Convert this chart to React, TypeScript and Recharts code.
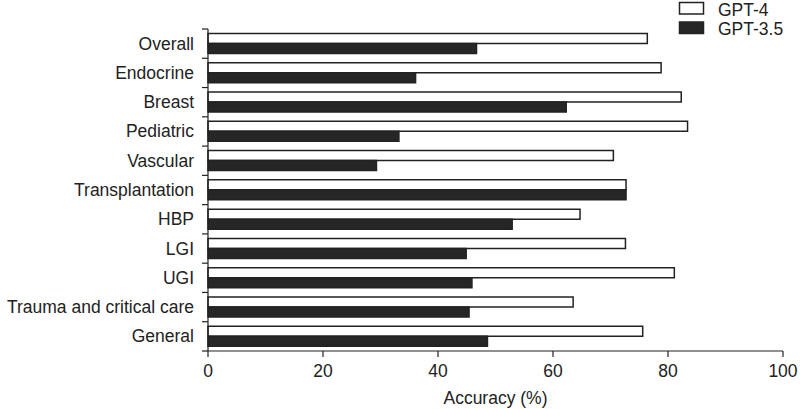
import React from 'react';
import { BarChart, Bar, XAxis, YAxis } from 'recharts';

const categories = ['Overall', 'Endocrine', 'Breast', 'Pediatric', 'Vascular', 'Transplantation', 'HBP', 'LGI', 'UGI', 'Trauma and critical care', 'General'];
const gpt4 = [76.4, 78.8, 82.3, 83.4, 70.5, 72.7, 64.7, 72.6, 81.1, 63.5, 75.6];
const gpt35 = [46.7, 36.1, 62.3, 33.2, 29.3, 72.7, 52.9, 44.9, 45.9, 45.4, 48.6];
const xTicks = [0, 20, 40, 60, 80, 100];
const seriesNames = ['GPT-4', 'GPT-3.5'];

const data = categories.map((c, i) => ({ name: c, gpt4: gpt4[i], gpt35: gpt35[i] }));

const W = 800;
const H = 409;
const MARGIN = { top: 29, right: 17, bottom: 0, left: 0 };
const Y_AXIS_W = 208;
const X_AXIS_H = 58;
const FONT = '"Liberation Sans", Arial, sans-serif';
const FS = 17.5;
const INK = '#222';
const plotH = H - MARGIN.top - MARGIN.bottom - X_AXIS_H;
const band = plotH / categories.length;
const axisX = MARGIN.left + Y_AXIS_W;

const YTick = (props: any) => {
  const { x, y, payload, index } = props;
  const top = y - band / 2;
  const bottom = y + band / 2;
  return (
    <g>
      <line x1={axisX - 6} x2={axisX} y1={top} y2={top} stroke={INK} strokeWidth={1.2} />
      {index === categories.length - 1 && (
        <line x1={axisX - 6} x2={axisX} y1={bottom} y2={bottom} stroke={INK} strokeWidth={1.2} />
      )}
      <text x={x} y={y} textAnchor="end" dominantBaseline="central" fontFamily={FONT} fontSize={FS} fill={INK}>
        {payload.value}
      </text>
    </g>
  );
};

const LegendBox = () => (
  <svg width={120} height={40} style={{ position: 'absolute', left: 678, top: 0, display: 'block' }}>
    <rect x={1.5} y={2.5} width={24} height={11.5} fill="#fff" stroke={INK} strokeWidth={1.5} />
    <text x={40} y={15.5} fontFamily={FONT} fontSize={FS} fill={INK}>{seriesNames[0]}</text>
    <rect x={1.5} y={22} width={24} height={11.5} fill="#262626" stroke={INK} strokeWidth={1.5} />
    <text x={40} y={35} fontFamily={FONT} fontSize={FS} fill={INK}>{seriesNames[1]}</text>
  </svg>
);

export default function App() {
  return (
    <div style={{ position: 'absolute', left: 0, top: 0, width: W, height: H, background: '#fff' }}>
      <BarChart
        width={W}
        height={H}
        data={data}
        layout="vertical"
        margin={MARGIN}
        barCategoryGap={4.5}
        barGap={0}
      >
        <XAxis
          type="number"
          domain={[0, 100]}
          ticks={xTicks}
          height={X_AXIS_H}
          tickSize={6}
          tickMargin={8}
          stroke={INK}
          strokeWidth={1.2}
          tick={{ fill: INK, fontSize: FS, fontFamily: FONT }}
          label={{ value: 'Accuracy (%)', position: 'insideBottom', offset: 5, fill: INK, fontSize: FS, fontFamily: FONT }}
        />
        <YAxis
          type="category"
          dataKey="name"
          width={Y_AXIS_W}
          tickSize={6}
          tickMargin={8}
          tickLine={false}
          stroke={INK}
          strokeWidth={1.2}
          interval={0}
          tick={<YTick />}
        />
        <Bar dataKey="gpt4" name={seriesNames[0]} fill="#fff" stroke={INK} strokeWidth={1.5} isAnimationActive={false} />
        <Bar dataKey="gpt35" name={seriesNames[1]} fill="#262626" stroke={INK} strokeWidth={1.5} isAnimationActive={false} />
      </BarChart>
      <LegendBox />
    </div>
  );
}
